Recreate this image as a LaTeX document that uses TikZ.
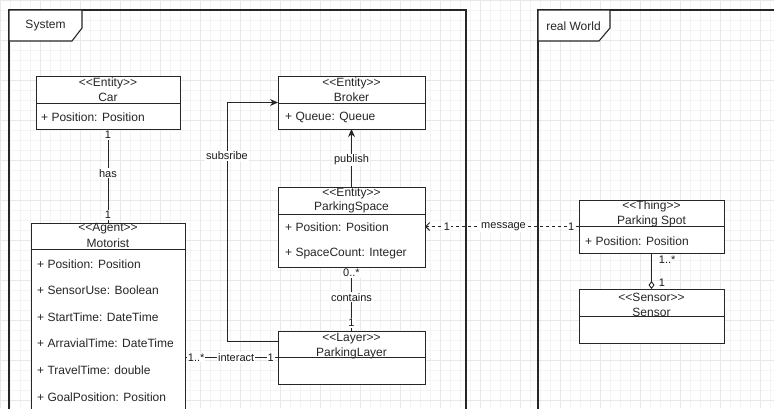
\documentclass[tikz,border=0pt]{standalone}
\usepackage{fontspec}
\setmainfont{Liberation Sans}
\usetikzlibrary{arrows.meta}
\tikzset{
  cls/.style={draw=black!85, fill=white, line width=0.9pt, anchor=north west, inner sep=0pt, outer sep=0pt},
  txt/.style={font=\fontsize{12}{14}\selectfont, inner sep=0pt, text=black!85},
  attr/.style={txt, anchor=west},
  lbl/.style={font=\fontsize{11}{13}\selectfont, fill=white, inner sep=1pt, text=black!90},
  mult/.style={font=\fontsize{11}{13}\selectfont, inner sep=0pt, text=black!90},
  conn/.style={draw=black!85, line width=0.9pt},
  frame/.style={draw=black!85, line width=1.1pt},
  divider/.style={draw=black!85, line width=0.9pt},
}
\newcommand\stereo[1]{\textless\kern0pt\textless\kern0pt#1\kern0pt\textgreater\kern0pt\textgreater}
\begin{document}
\begin{tikzpicture}[x=1pt,y=-1pt]
\useasboundingbox (0,0) rectangle (774,408);
\fill[white] (0,0) rectangle (774,408);
% grid
\draw[gray!9, line width=0.4pt] (0,0) grid[step=10pt] (774,408);
\draw[gray!18, line width=0.5pt] (0,0) grid[step=40pt] (774,408);

% frames
\draw[frame] (9,415) -- (9,10) -- (466,10) -- (466,415);
\draw[frame, fill=white] (9,10) -- (82,10) -- (82,28) -- (72,41) -- (9,41) -- cycle;
\node[txt] (syslbl) at (45.5,26) {System};
\draw[frame] (538,415) -- (538,10) -- (780,10);
\draw[frame, fill=white] (538,10) -- (610,10) -- (610,28) -- (599,41) -- (538,41) -- cycle;
\node[txt] (rwlbl) at (573.5,26) {real World};

% Car
\node[cls, minimum width=144pt, minimum height=53pt] (car) at (36,76) {};
\draw[divider] (car.west |- 0,103) -- (car.east |- 0,103);
\node[txt] (carst) at (108,83) {\stereo{Entity}};
\node[txt] (carnm) at (108,97) {Car};
\node[attr] (cara1) at (41,117) {+ Position: Position};

% Motorist
\node[cls, minimum width=154pt, minimum height=200pt] (mot) at (31,223) {};
\draw[divider] (mot.west |- 0,249) -- (mot.east |- 0,249);
\node[txt] (motst) at (108,229) {\stereo{Agent}};
\node[txt] (motnm) at (108,243) {Motorist};
\node[attr] (mota1) at (37,264) {+ Position: Position};
\node[attr] (mota2) at (37,290.5) {+ SensorUse: Boolean};
\node[attr] (mota3) at (37,317) {+ StartTime: DateTime};
\node[attr] (mota4) at (37,343.5) {+ ArravialTime: DateTime};
\node[attr] (mota5) at (37,370.5) {+ TravelTime: double};
\node[attr] (mota6) at (37,397) {+ GoalPosition: Position};

% Broker
\node[cls, minimum width=147pt, minimum height=53pt] (broker) at (278,76) {};
\draw[divider] (broker.west |- 0,103) -- (broker.east |- 0,103);
\node[txt] (brst) at (351.5,83) {\stereo{Entity}};
\node[txt] (brnm) at (351.5,97) {Broker};
\node[attr] (bra1) at (285,117) {+ Queue: Queue};

% ParkingSpace
\node[cls, minimum width=147pt, minimum height=80pt] (pspace) at (278,187) {};
\draw[divider] (pspace.west |- 0,214) -- (pspace.east |- 0,214);
\node[txt] (psst) at (351.5,193.5) {\stereo{Entity}};
\node[txt] (psnm) at (351.5,207.5) {ParkingSpace};
\node[attr] (psa1) at (285,227) {+ Position: Position};
\node[attr] (psa2) at (285,254) {+ SpaceCount: Integer};

% ParkingLayer
\node[cls, minimum width=147pt, minimum height=53pt] (layer) at (278,331) {};
\node[txt] (lyst) at (351.5,338.5) {\stereo{Layer}};
\node[txt] (lynm) at (351.5,353) {ParkingLayer};
\draw[divider] (layer.west |- 0,357.5) -- (layer.east |- 0,357.5);

% Parking Spot
\node[cls, minimum width=145pt, minimum height=53pt] (spot) at (579,200) {};
\draw[divider] (spot.west |- 0,226.5) -- (spot.east |- 0,226.5);
\node[txt] (spst) at (651.5,206.5) {\stereo{Thing}};
\node[txt] (spnm) at (651.5,221) {Parking Spot};
\node[attr] (spa1) at (585,241) {+ Position: Position};

% Sensor
\node[cls, minimum width=145pt, minimum height=54pt] (sensor) at (579,289) {};
\node[txt] (sest) at (651.5,297) {\stereo{Sensor}};
\node[txt] (senm) at (651.5,312) {Sensor};
\draw[divider] (sensor.west |- 0,316) -- (sensor.east |- 0,316);

% connectors
\draw[conn] (car.south) -- (mot.north)
  node[lbl, pos=0.065] (m1) {1}
  node[lbl, pos=0.47] (hasl) {has}
  node[lbl, pos=0.915] (m2) {1};

\draw[conn, -{Stealth[length=8pt, width=7pt]}] (pspace.north) -- (broker.south)
  node[lbl, pos=0.47] (publ) {publish};

\draw[conn] (pspace.south) -- (layer.north)
  node[lbl, pos=0.09] (m3) {0..*}
  node[lbl, pos=0.47] (contl) {contains}
  node[lbl, pos=0.875] (m4) {1};

\draw[conn] (mot.east |- layer.west) -- (layer.west)
  node[lbl, pos=0.12] (m5) {1..*}
  node[lbl, pos=0.55] (intl) {interact}
  node[lbl, pos=0.92] (m6) {1};

\draw[conn, -{Stealth[length=8pt, width=7pt]}] ([yshift=16.5pt]layer.west) -- ++(-51,0) |- (broker.west)
  node[lbl, pos=0.388] (subl) {subsribe};

\draw[conn, dash pattern=on 3pt off 3pt, -{Straight Barb[length=4pt, width=8pt]}] (spot.west) -- (pspace.east |- spot.west)
  node[lbl, pos=0.05] (m7) {1}
  node[lbl, pos=0.49] (msgl) {message}
  node[lbl, pos=0.857] (m8) {1};

\draw[conn, {Diamond[open, length=8pt, width=6pt]}-] (sensor.north) -- (spot.south)
  node[mult, pos=0.8, anchor=west, xshift=7pt] (m9) {1..*}
  node[mult, pos=0.17, anchor=west, xshift=7pt] (m10) {1};
\end{tikzpicture}
\end{document}
